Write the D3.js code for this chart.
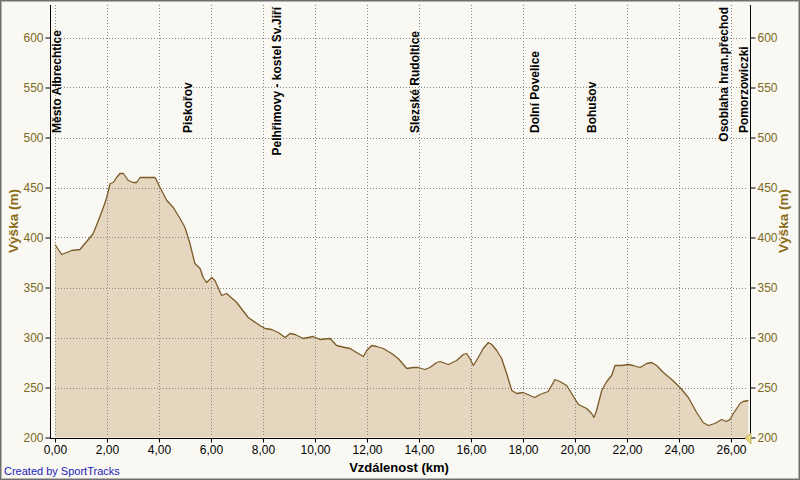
<!DOCTYPE html>
<html><head><meta charset="utf-8">
<script src="https://cdn.jsdelivr.net/npm/d3@7"></script>
<style>
html,body{margin:0;padding:0;background:#f9f8f3;}
svg{display:block;}
</style></head>
<body>
<svg id="c" width="800" height="480"></svg>
<script>
const distanceKm = [0.00,0.26,0.45,0.64,0.96,1.15,1.35,1.47,1.67,1.86,1.99,2.12,2.24,2.37,2.50,2.63,2.82,3.01,3.14,3.27,3.53,3.85,4.04,4.30,4.55,4.81,5.00,5.19,5.38,5.58,5.70,5.83,6.03,6.15,6.41,6.60,6.99,7.43,7.88,8.08,8.33,8.59,8.85,9.04,9.23,9.55,9.93,10.19,10.58,10.83,11.15,11.35,11.60,11.86,11.99,12.18,12.37,12.63,12.95,13.20,13.53,13.78,13.97,14.23,14.42,14.68,14.81,15.13,15.45,15.70,15.83,15.96,16.09,16.28,16.47,16.67,16.80,16.99,17.18,17.37,17.57,17.76,18.01,18.27,18.46,18.65,18.97,19.10,19.23,19.42,19.68,19.87,20.13,20.45,20.64,20.73,20.83,21.03,21.22,21.41,21.54,21.80,22.05,22.24,22.50,22.76,22.95,23.14,23.40,23.72,24.04,24.36,24.68,24.93,25.13,25.38,25.64,25.83,25.96,26.09,26.35,26.47,26.67];
const elevationM = [393,383,385,387,388,394,400,404,417,430,440,454,455,460,464,464,457,455,455,460,460,460,450,437,430,419,410,394,374,369,360,355,360,357,342,344,335,320,312,309,308,305,300,304,303,299,301,298,299,292,290,289,285,281,287,292,291,289,284,279,269,270,270,268,270,275,276,273,277,283,284,279,272,280,289,295,293,287,279,264,247,244,245,242,240,243,246,252,258,256,252,244,233,229,224,220,227,247,256,262,272,272,273,272,270,274,275,272,265,258,250,240,225,215,212,214,218,216,218,224,234,236,237];
const waypointNames = ["Město Albrechtice","Piskořov","Pelhřimovy - kostel Sv.Jiří","Slezské Rudoltice","Dolní Povelice","Bohušov","Osoblaha hran.přechod","Pomorzowiczki"];
const waypointKm = [0.05,5.10,8.54,13.83,18.44,20.63,25.73,26.48];
const xTicks = [0,2,4,6,8,10,12,14,16,18,20,22,24,26];
const yTicks = [200,250,300,350,400,450,500,550,600];
const xTitle = "Vzdálenost (km)";
const yTitle = "Výška (m)";
const credit = "Created by SportTracks";

const svg = d3.select("#c");
const W = 800, H = 480;
const x = d3.scaleLinear().domain([0, 26.67]).range([55, 748.4]);
const y = d3.scaleLinear().domain([200, 632]).range([437.5, 5.5]);
const data = distanceKm.map((d,i)=>({d, e: elevationM[i]}));
const font = "'Liberation Sans', Arial, sans-serif";

svg.append("rect").attr("x",0).attr("y",0).attr("width",W).attr("height",H).attr("fill","#f9f8f3");

// area
svg.append("path").datum(data)
  .attr("d", d3.area().x(p=>x(p.d)).y0(y(200)).y1(p=>y(p.e)))
  .attr("fill","#e4d6bf");

// grid
const grid = svg.append("g").attr("stroke","#888").attr("stroke-width",1).attr("stroke-dasharray","1,2");
yTicks.filter(t=>t>200).forEach(t=>{
  grid.append("line").attr("x1",55).attr("x2",748).attr("y1",Math.round(y(t))+0.5).attr("y2",Math.round(y(t))+0.5);
});
xTicks.forEach(t=>{
  grid.append("line").attr("x1",Math.round(x(t))+0.5).attr("x2",Math.round(x(t))+0.5).attr("y1",5).attr("y2",437);
});

// line
svg.append("path").datum(data)
  .attr("d", d3.line().x(p=>x(p.d)).y(p=>y(p.e)))
  .attr("fill","none").attr("stroke","#7b5c28").attr("stroke-width",1.3).attr("stroke-linejoin","round");

// axes
const tickColor = "#7d6a22";
const yL = svg.append("g").attr("transform","translate(50.5,0)")
  .call(d3.axisLeft(y).tickValues(yTicks).tickSize(5).tickPadding(2).tickSizeOuter(0));
const yR = svg.append("g").attr("transform","translate(750.5,0)")
  .call(d3.axisRight(y).tickValues(yTicks).tickSize(5).tickPadding(2).tickSizeOuter(0));
const xA = svg.append("g").attr("transform","translate(0,438.5)")
  .call(d3.axisBottom(x).tickValues(xTicks).tickSize(4).tickPadding(3).tickSizeOuter(0)
    .tickFormat(d=>d3.format(".2f")(d).replace(".",",")));
[yL,yR,xA].forEach(g=>{
  g.select(".domain").remove();
  g.selectAll(".tick line").attr("stroke","#000");
  g.selectAll("text").attr("font-family",font).attr("font-size","12px");
});
yL.selectAll("text").attr("fill",tickColor);
yR.selectAll("text").attr("fill",tickColor);
xA.selectAll("text").attr("fill","#000");
svg.append("line").attr("x1",50.5).attr("x2",50.5).attr("y1",5).attr("y2",438).attr("stroke","#000");
svg.append("line").attr("x1",750.5).attr("x2",750.5).attr("y1",5).attr("y2",438).attr("stroke","#000");
svg.append("line").attr("x1",50).attr("x2",751).attr("y1",438.5).attr("y2",438.5).attr("stroke","#000");

// marker
svg.append("path").attr("d","M745,438 L751,433 L751,444 Z").attr("fill","#e8da86").attr("stroke","#b3a240").attr("stroke-width",0.8);

// waypoint labels
const wl = svg.append("g");
waypointNames.forEach((n,i)=>{
  const t = wl.append("text").text(n)
    .attr("font-family",font).attr("font-weight","bold").attr("font-size","12px")
    .attr("fill","#000").attr("text-anchor","start").attr("dy","0.36em");
  const L = t.node().getComputedTextLength();
  const bottom = Math.max(133, 7 + L);
  t.attr("transform",`translate(${x(waypointKm[i])},${bottom}) rotate(-90)`);
});

// titles
const tc = "#8a6a14";
svg.append("text").text(yTitle).attr("transform","translate(18,221) rotate(-90)")
  .attr("text-anchor","middle").attr("font-family",font).attr("font-weight","bold").attr("font-size","13.5px").attr("fill",tc);
svg.append("text").text(yTitle).attr("transform","translate(788,221) rotate(-90)")
  .attr("text-anchor","middle").attr("font-family",font).attr("font-weight","bold").attr("font-size","13.5px").attr("fill",tc);
svg.append("text").text(xTitle).attr("x",399).attr("y",472)
  .attr("text-anchor","middle").attr("font-family",font).attr("font-weight","bold").attr("font-size","13px").attr("fill","#000");
svg.append("text").text(credit).attr("x",4).attr("y",475)
  .attr("font-family",font).attr("font-size","11px").attr("fill","#2323b8");

// frame
svg.append("rect").attr("x",0.5).attr("y",0.5).attr("width",W-1).attr("height",H-1).attr("fill","none").attr("stroke","#6e6e6e");
svg.append("rect").attr("x",1.5).attr("y",1.5).attr("width",W-3).attr("height",H-3).attr("fill","none").attr("stroke","#b4b4b4");
</script>
</body></html>
